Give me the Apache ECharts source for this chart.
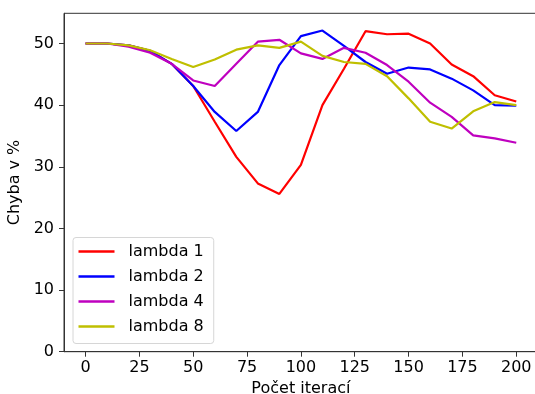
<!DOCTYPE html>
<html>
<head>
<meta charset="utf-8">
<script src="https://cdn.jsdelivr.net/npm/echarts@6/dist/echarts.min.js"></script>
<style>html,body{margin:0;padding:0;background:#fff}#c{width:535px;height:394px}</style>
</head>
<body>
<div id="c"></div>
<script>
const iterations = [0,10,20,30,40,50,60,70,80,90,100,110,120,130,140,150,160,170,180,190,200];
const lambda1 = [50,50,49.7,48.8,46.7,43.1,37.3,31.6,27.3,25.6,30.3,40.0,45.9,52.0,51.5,51.6,50.0,46.6,44.7,41.6,40.6];
const lambda2 = [50,50,49.7,48.8,46.7,43.1,38.9,35.8,38.9,46.5,51.2,52.1,49.6,47.0,45.1,46.1,45.8,44.3,42.4,40.0,39.9];
const lambda4 = [50,50,49.5,48.5,46.7,44.0,43.1,46.7,50.3,50.6,48.4,47.5,49.3,48.5,46.5,43.8,40.4,38.1,35.1,34.6,33.9];
const lambda8 = [50,50,49.7,48.9,47.5,46.2,47.4,49.0,49.7,49.3,50.3,48.0,47.0,46.7,44.7,41.1,37.3,36.2,39.0,40.5,40.0];
const seriesNames = ['lambda 1','lambda 2','lambda 4','lambda 8'];
const xTicks = [0,25,50,75,100,125,150,175,200];
const yTicks = [0,10,20,30,40,50];

const colors = ['#ff0000','#0000ff','#bf00bf','#bfbf00'];
const allData = [lambda1, lambda2, lambda4, lambda8];
const font = 'DejaVu Sans';
const axisColor = '#333';

const chart = echarts.init(document.getElementById('c'), null, {renderer:'canvas'});
chart.setOption({
  animation: false,
  backgroundColor: '#fff',
  textStyle: {fontFamily: font},
  grid: {left: 64, right: -2.8, top: 13.3, bottom: 42.3, containLabel: false, outerBoundsMode: 'none',
         show: true, borderColor: axisColor, borderWidth: 1, backgroundColor: 'transparent'},
  legend: {
    orient: 'vertical', left: 73, top: 237.5,
    data: seriesNames,
    icon: 'rect', itemWidth: 36, itemHeight: 2.5, itemGap: 7,
    padding: [5, 10, 8, 5.5],
    borderColor: '#d6d6d6', borderWidth: 1, borderRadius: 3,
    backgroundColor: 'rgba(255,255,255,0.8)',
    textStyle: {fontFamily: font, fontSize: 16, color: '#000', lineHeight: 18, padding: [0,0,0,9]}
  },
  xAxis: {
    type: 'value', min: -10, max: 210,
    name: 'Počet iterací', nameLocation: 'middle', nameGap: 29,
    nameTextStyle: {fontFamily: font, fontSize: 16, color: '#000'},
    splitLine: {show: false},
    axisLine: {show: true, onZero: false, lineStyle: {color: axisColor, width: 1}},
    axisTick: {show: true, length: 5, lineStyle: {color: axisColor}, customValues: xTicks},
    axisLabel: {fontFamily: font, fontSize: 16, color: '#000', margin: 8, customValues: xTicks}
  },
  yAxis: {
    type: 'value', min: 0, max: 54.9,
    name: 'Chyba v %', nameLocation: 'middle', nameGap: 30, nameRotate: 90,
    nameTextStyle: {fontFamily: font, fontSize: 16, color: '#000'},
    splitLine: {show: false},
    axisLine: {show: true, onZero: false, lineStyle: {color: axisColor, width: 1}},
    axisTick: {show: true, length: 5, lineStyle: {color: axisColor}, customValues: yTicks},
    axisLabel: {fontFamily: font, fontSize: 16, color: '#000', margin: 10, customValues: yTicks}
  },
  series: allData.map((d, i) => ({
    name: seriesNames[i], type: 'line',
    data: iterations.map((x, j) => [x, d[j]]),
    showSymbol: false, symbol: 'none',
    color: colors[i],
    lineStyle: {color: colors[i], width: 2.2},
    z: 2 + i
  }))
});
</script>
</body>
</html>
